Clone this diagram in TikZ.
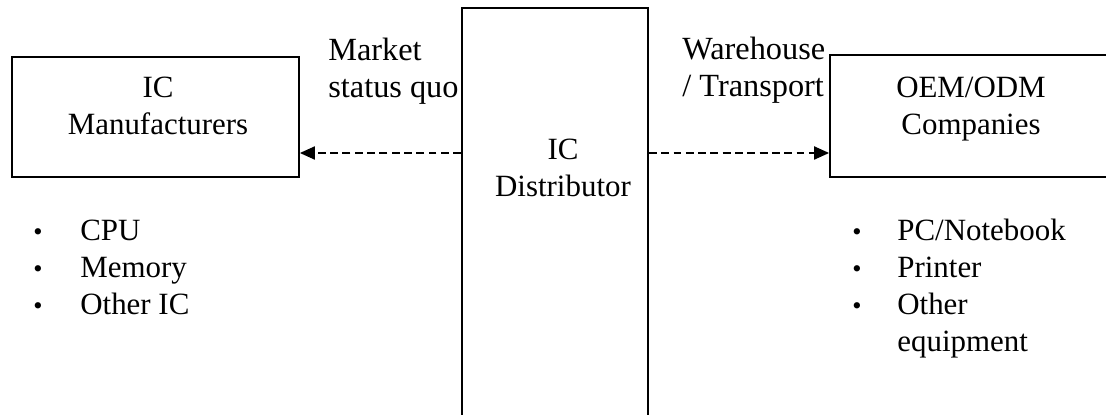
\documentclass[tikz,border=0pt]{standalone}
\usepackage{fontspec}
\setmainfont{Liberation Serif}
\usetikzlibrary{arrows.meta}

\begin{document}
\begin{tikzpicture}[x=0.02cm,y=-0.02cm,>={Triangle[length=8.5pt,width=7.5pt]},
  every node/.style={font=\fontsize{17.6}{21.3}\selectfont,inner sep=0pt},
  block/.style={draw,line width=1.1pt,minimum height=2.4cm},
  link/.style={->,line width=0.8pt,dash pattern=on 4.5pt off 2.5pt},
  txt/.style={anchor=base,align=center},
  lbl/.style={anchor=base west,align=left},
  note/.style={lbl,font=\fontsize{18.4}{21.3}\selectfont},
  dot/.style={anchor=base,font=\fontsize{15}{15}\selectfont}]

\useasboundingbox (0,0) rectangle (1106,415);
\clip (0,0) rectangle (1106,415);

\node(manu) at (155.5,117)[block,minimum width=5.74cm] {};
\node(dist) at (555,258)[block,minimum width=3.72cm,minimum height=10cm] {};
\node(oem) at (981,116)[block,minimum width=6.04cm,minimum height=2.44cm] {};

% two-line texts sit on the baseline of their last line
\node(manutxt) at (158,135)[txt] {IC\\Manufacturers};
\node(disttxt) at (563,197)[txt] {IC\\Distributor};
\node(oemtxt) at (971,135)[txt] {OEM/ODM\\Companies};
\node(market) at (328,98)[note] {Market\\status quo};
\node(ware) at (682,97)[note] {Warehouse\\/ Transport};

\coordinate(mid) at (0,153);
\draw[link] (mid -| dist.west) -- (mid -| manu.east);
\draw[link] (mid -| dist.east) -- (mid -| oem.west);

\node(b1) at (38,241)[dot] {•};
\node(b2) at (38,278)[dot] {•};
\node(b3) at (38,315)[dot] {•};
\node(cpu) at (80,241)[lbl] {CPU};
\node(mem) at (80,278)[lbl] {Memory};
\node(otheric) at (80,315)[lbl] {Other IC};

\node(b4) at (857,241)[dot] {•};
\node(b5) at (857,278)[dot] {•};
\node(b6) at (857,315)[dot] {•};
\node(pc) at (897,241)[lbl] {PC/Notebook};
\node(printer) at (897,278)[lbl] {Printer};
\node(otherequip) at (897,352)[lbl] {Other\\equipment};

\end{tikzpicture}
\end{document}
